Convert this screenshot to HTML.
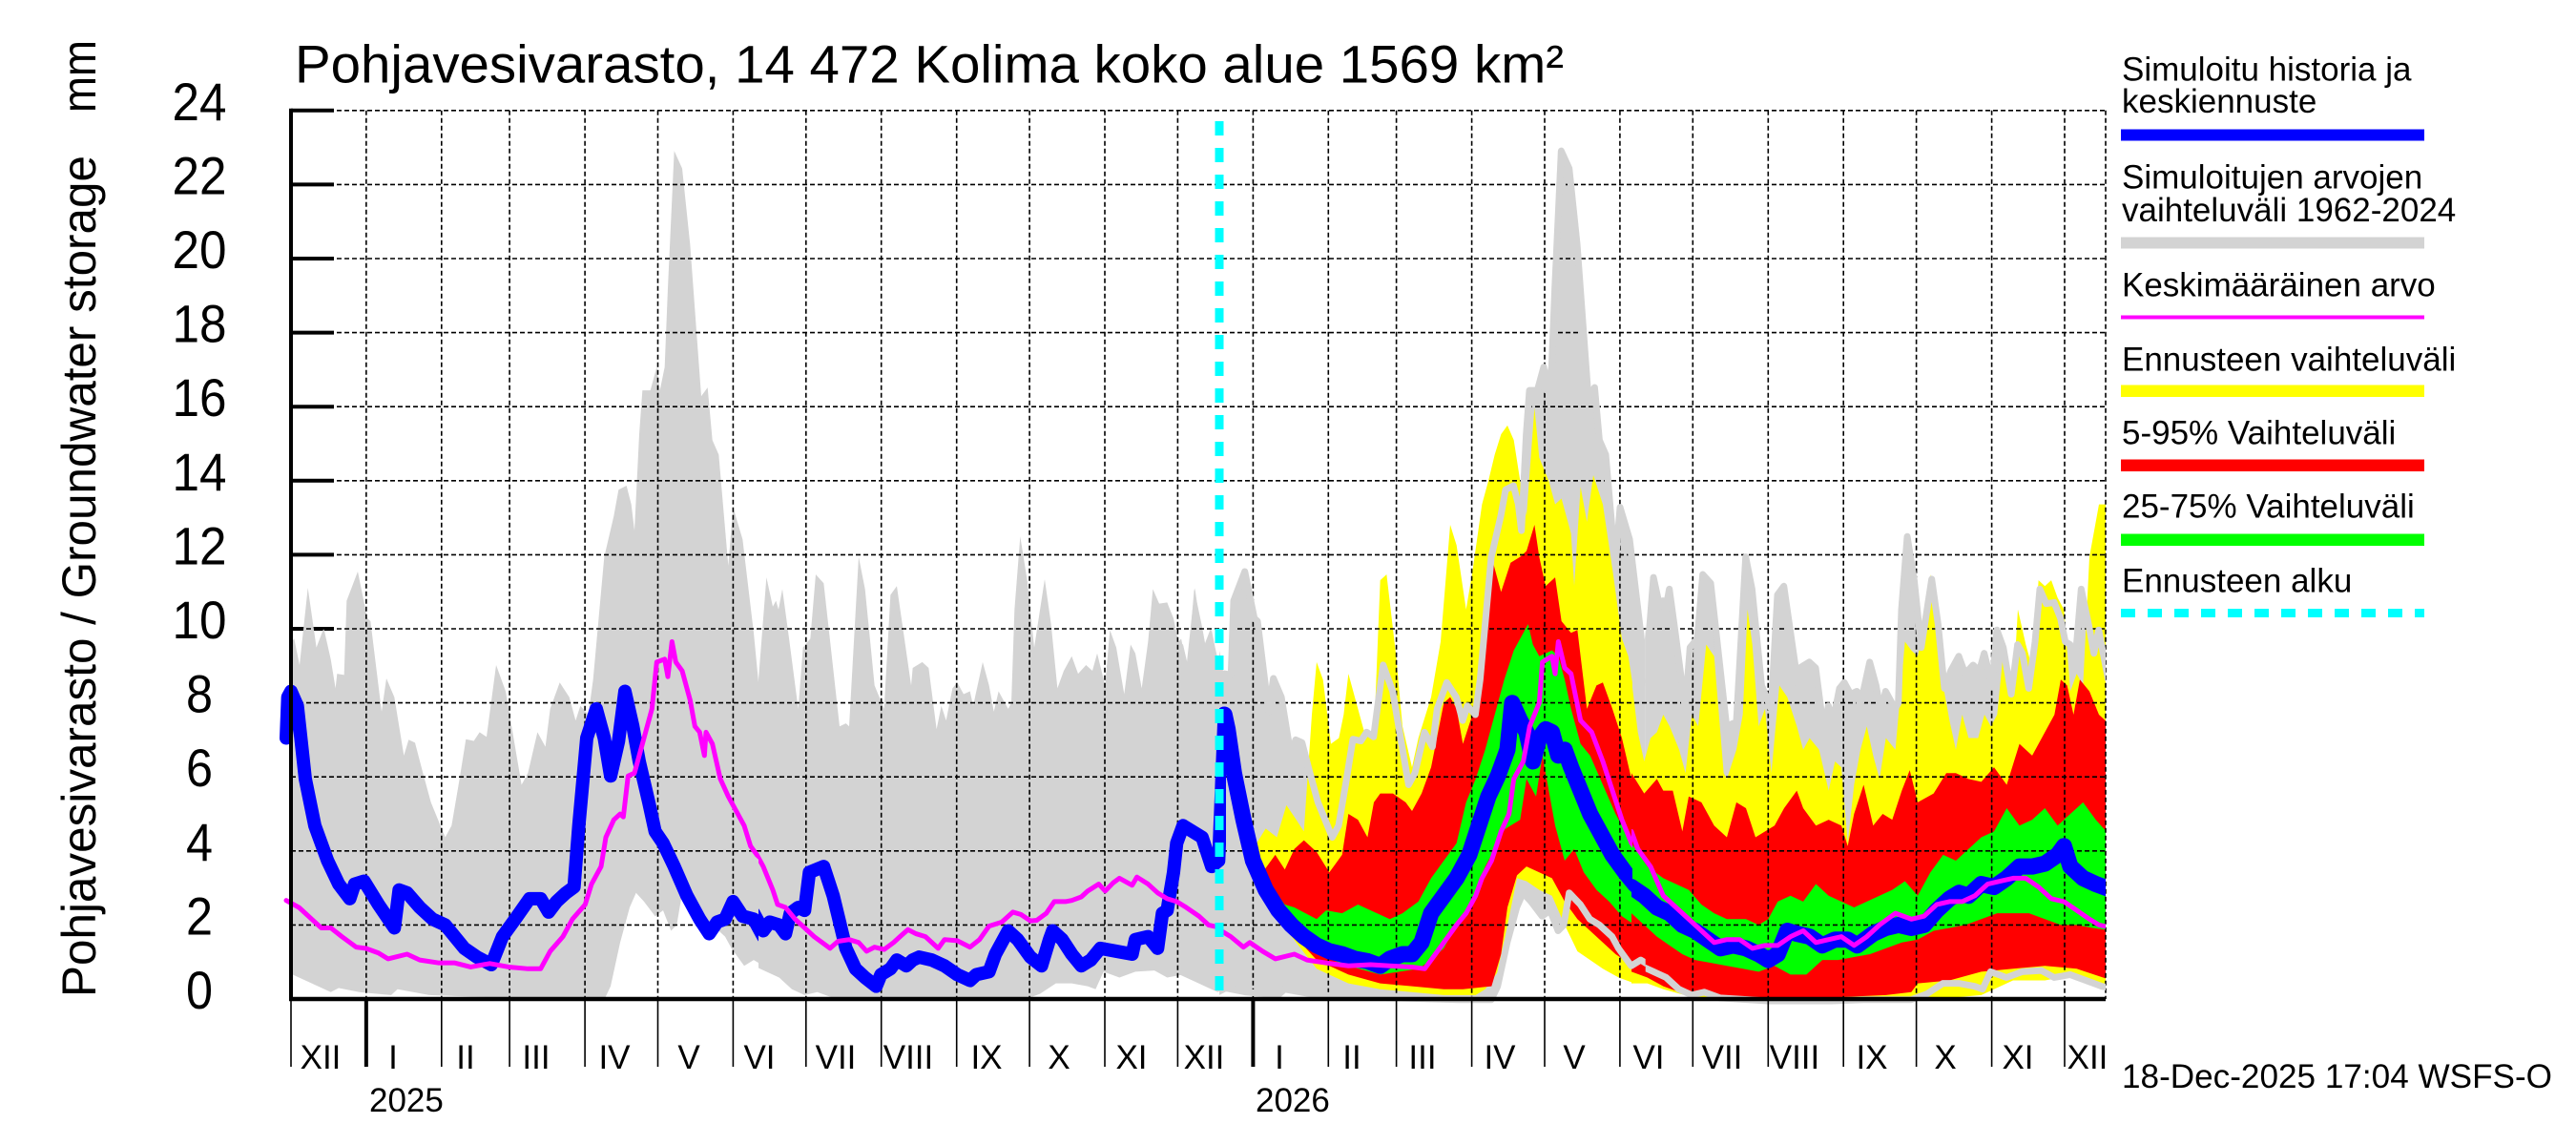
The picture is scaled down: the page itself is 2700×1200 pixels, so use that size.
<!DOCTYPE html>
<html><head><meta charset="utf-8"><style>html,body{margin:0;padding:0;background:#fff}svg{display:block}</style></head>
<body>
<svg width="2700" height="1200" viewBox="0 0 2700 1200" xmlns="http://www.w3.org/2000/svg" xmlns:xlink="http://www.w3.org/1999/xlink" font-family="'Liberation Sans', Arial, sans-serif">
<defs>
<clipPath id="plot"><rect x="305" y="100" width="1902" height="947"/></clipPath>
<clipPath id="cA"><rect x="0" y="0" width="795" height="1100"/></clipPath>
<clipPath id="cB"><rect x="795" y="0" width="600" height="1100"/></clipPath>
<clipPath id="cL7"><rect x="290" y="0" width="505" height="1100"/></clipPath>
<clipPath id="cL8"><rect x="795" y="0" width="490" height="1100"/></clipPath>
<clipPath id="cM8"><rect x="795" y="0" width="485" height="1100"/></clipPath>
<clipPath id="cF1"><rect x="1278" y="0" width="433" height="1100"/></clipPath>
<clipPath id="cM9"><rect x="1280" y="0" width="431" height="1100"/></clipPath>
<clipPath id="cF2"><rect x="1710" y="0" width="497" height="1100"/></clipPath>
<clipPath id="cFall"><rect x="1278" y="0" width="929" height="1100"/></clipPath>
<g id="gb" fill="#d3d3d3">
 <g clip-path="url(#cA)"><g transform="translate(300,100) scale(0.333333,0.612245)"><polygon points="0,945 25,930 42,975 68,843 95,945 118,912 140,965 155,1015 160,990 182,992 190,865 225,815 255,895 265,900 300,1055 315,998 340,1030 370,1130 385,1103 405,1108 430,1160 455,1210 500,1270 520,1250 545,1170 565,1102 590,1105 608,1090 630,1098 660,975 690,1020 740,1180 760,1160 790,1090 815,1115 830,1050 860,1005 890,1030 910,1070 925,1045 950,1060 965,1000 985,880 1000,790 1030,720 1045,675 1070,668 1085,700 1095,745 1110,580 1120,505 1145,505 1165,465 1175,505 1190,465 1200,330 1220,95 1245,125 1270,255 1305,515 1325,500 1340,590 1360,615 1390,805 1405,705 1435,760 1470,920 1485,1005 1500,870 1515,870 1515,1490 1500,1490 1470,1480 1440,1490 1400,1460 1380,1440 1340,1420 1310,1410 1280,1385 1245,1365 1228,1420 1210,1430 1185,1395 1160,1405 1125,1380 1100,1365 1080,1390 1050,1450 1020,1525 1000,1548 900,1548 700,1545 600,1543 450,1540 350,1530 330,1540 230,1535 165,1528 140,1535 60,1515 0,1500"/></g></g>
 <g clip-path="url(#cB)"><g transform="translate(790,100) scale(0.333333,0.612245)"><polygon points="0,940 15,1000 40,825 60,875 70,865 78,880 90,845 110,925 140,1050 155,945 178,930 195,820 220,835 270,1080 290,1075 300,1080 330,790 350,845 380,1010 410,1050 430,855 450,840 495,1010 500,980 530,970 550,980 575,1085 590,1045 605,1070 625,1015 640,1005 660,1025 680,1020 690,1045 720,970 740,1010 755,1055 770,1020 800,1050 810,1040 820,880 838,755 860,830 882,945 915,828 935,905 955,1015 975,985 1000,960 1020,990 1045,975 1065,985 1080,955 1105,1010 1120,915 1140,945 1165,1025 1185,940 1200,955 1220,1015 1240,935 1255,845 1275,870 1300,868 1320,895 1335,935 1350,940 1365,975 1385,845 1410,910 1425,955 1440,915 1470,1000 1480,990 1500,990 1500,1530 1450,1525 1400,1515 1350,1505 1300,1510 1260,1498 1200,1500 1150,1510 1100,1500 1075,1530 1050,1525 1000,1520 950,1520 900,1538 850,1548 700,1548 600,1550 400,1550 250,1545 200,1535 160,1540 120,1530 80,1510 40,1500 0,1490"/></g></g>
</g>
<g id="ge" fill="none" stroke="#d3d3d3" stroke-width="7" stroke-linejoin="round">
 <g clip-path="url(#cA)"><g transform="translate(300,100) scale(0.333333,0.612245)">
  <polyline vector-effect="non-scaling-stroke" points="0,945 25,930 42,975 68,843 95,945 118,912 140,965 155,1015 160,990 182,992 190,865 225,815 255,895 265,900 300,1055 315,998 340,1030 370,1130 385,1103 405,1108 430,1160 455,1210 500,1270 520,1250 545,1170 565,1102 590,1105 608,1090 630,1098 660,975 690,1020 740,1180 760,1160 790,1090 815,1115 830,1050 860,1005 890,1030 910,1070 925,1045 950,1060 965,1000 985,880 1000,790 1030,720 1045,675 1070,668 1085,700 1095,745 1110,580 1120,505 1145,505 1165,465 1175,505 1190,465 1200,330 1220,95 1245,125 1270,255 1305,515 1325,500 1340,590 1360,615 1390,805 1405,705 1435,760 1470,920 1485,1005 1500,870 1515,870"/>
  <polyline vector-effect="non-scaling-stroke" points="1515,1490 1500,1490 1470,1480 1440,1490 1400,1460 1380,1440 1340,1420 1310,1410 1280,1385 1245,1365 1228,1420 1210,1430 1185,1395 1160,1405 1125,1380 1100,1365 1080,1390 1050,1450 1020,1525 1000,1548 900,1548 700,1545 600,1543 450,1540 350,1530 330,1540 230,1535 165,1528 140,1535 60,1515 0,1500"/>
 </g></g>
 <g clip-path="url(#cB)"><g transform="translate(790,100) scale(0.333333,0.612245)">
  <polyline vector-effect="non-scaling-stroke" points="0,940 15,1000 40,825 60,875 70,865 78,880 90,845 110,925 140,1050 155,945 178,930 195,820 220,835 270,1080 290,1075 300,1080 330,790 350,845 380,1010 410,1050 430,855 450,840 495,1010 500,980 530,970 550,980 575,1085 590,1045 605,1070 625,1015 640,1005 660,1025 680,1020 690,1045 720,970 740,1010 755,1055 770,1020 800,1050 810,1040 820,880 838,755 860,830 882,945 915,828 935,905 955,1015 975,985 1000,960 1020,990 1045,975 1065,985 1080,955 1105,1010 1120,915 1140,945 1165,1025 1185,940 1200,955 1220,1015 1240,935 1255,845 1275,870 1300,868 1320,895 1335,935 1350,940 1365,975 1385,845 1410,910 1425,955 1440,915 1470,1000 1480,990 1500,990"/>
  <polyline vector-effect="non-scaling-stroke" points="1500,1530 1450,1525 1400,1515 1350,1505 1300,1510 1260,1498 1200,1500 1150,1510 1100,1500 1075,1530 1050,1525 1000,1520 950,1520 900,1538 850,1548 700,1548 600,1550 400,1550 250,1545 200,1535 160,1540 120,1530 80,1510 40,1500 0,1490"/>
 </g></g>
</g>
</defs>

<rect x="0" y="0" width="2700" height="1200" fill="#fff"/>

<g stroke="#000" stroke-width="4">
<line x1="305" y1="115.8" x2="350" y2="115.8"/><line x1="305" y1="193.4" x2="350" y2="193.4"/><line x1="305" y1="271" x2="350" y2="271"/><line x1="305" y1="348.6" x2="350" y2="348.6"/><line x1="305" y1="426.2" x2="350" y2="426.2"/><line x1="305" y1="503.8" x2="350" y2="503.8"/><line x1="305" y1="581.4" x2="350" y2="581.4"/><line x1="305" y1="659" x2="350" y2="659"/><line x1="305" y1="736.6" x2="350" y2="736.6"/><line x1="305" y1="814.2" x2="350" y2="814.2"/><line x1="305" y1="891.8" x2="350" y2="891.8"/><line x1="305" y1="969.4" x2="350" y2="969.4"/>
</g>

<g clip-path="url(#plot)">
 <use href="#gb" xlink:href="#gb"/>
 <use href="#gb" xlink:href="#gb" transform="translate(929.7,0)"/>
</g>

<g clip-path="url(#cF1)"><g transform="translate(1280,100) scale(0.333333,0.612245)">
<polygon fill="#ffff00" points="0,1060 60,1230 100,1290 140,1255 175,1270 205,1215 230,1235 260,1260 285,1060 300,970 320,1000 345,1110 370,1100 385,1060 400,990 420,1030 450,1090 480,1100 500,830 520,820 550,960 570,1080 600,1150 620,1100 660,1030 690,935 720,735 740,770 770,880 790,815 820,700 840,660 860,615 880,580 900,565 920,590 940,660 960,720 985,535 1000,620 1030,660 1050,700 1070,690 1100,750 1110,840 1130,670 1150,730 1170,650 1200,700 1230,810 1260,930 1280,960 1300,1030 1330,1130 1330,1525 1300,1520 1250,1510 1200,1495 1160,1480 1120,1465 1080,1420 1040,1370 1000,1360 960,1345 930,1340 900,1420 870,1500 830,1530 800,1540 700,1540 600,1535 500,1530 400,1520 300,1495 200,1425 100,1325 0,1060"/>
<polygon fill="#ff0000" points="0,1060 80,1260 130,1330 170,1300 200,1325 230,1290 260,1275 300,1295 340,1330 380,1300 400,1230 430,1240 460,1270 480,1210 500,1195 540,1195 580,1210 600,1225 630,1195 660,1150 700,1040 720,1030 740,1050 760,1110 790,1060 820,1000 850,790 880,850 910,800 940,790 960,780 985,735 1000,790 1020,840 1050,825 1070,900 1100,920 1120,915 1150,1050 1180,1010 1200,1005 1230,1050 1260,1100 1290,1170 1330,1190 1330,1500 1280,1485 1240,1470 1200,1450 1160,1430 1120,1410 1080,1380 1040,1340 1000,1330 960,1320 930,1335 900,1390 880,1470 850,1525 760,1530 700,1530 600,1525 500,1520 400,1505 300,1480 200,1420 100,1320 0,1060"/>
<polygon fill="#00ff00" points="0,1060 100,1310 200,1385 230,1390 300,1410 330,1395 380,1400 430,1385 470,1395 530,1410 570,1400 620,1380 660,1340 700,1310 740,1280 770,1210 800,1170 830,1120 860,1060 890,1000 920,950 940,930 965,905 980,940 1000,960 1020,955 1040,950 1060,960 1080,1000 1100,1050 1130,1110 1160,1130 1200,1180 1240,1230 1280,1270 1330,1290 1330,1420 1300,1420 1260,1405 1220,1380 1180,1360 1140,1330 1110,1290 1080,1310 1050,1250 1030,1190 1010,1130 990,1200 960,1170 940,1240 910,1250 880,1260 860,1290 830,1320 800,1360 770,1400 740,1420 700,1460 660,1480 620,1495 560,1500 500,1505 400,1490 300,1470 200,1410 100,1320 0,1060"/>
</g></g>
<g clip-path="url(#cF2)"><g transform="translate(1710,100) scale(0.333333,0.612245)">
<polygon fill="#ffff00" points="0,1000 20,1090 40,1140 60,1100 80,1090 100,1060 120,1080 150,1120 170,1160 190,1060 210,1080 235,940 260,960 290,1160 300,1170 330,1120 350,1060 365,880 380,940 400,1080 420,1050 440,1160 465,1010 490,1030 520,1080 540,1120 560,1100 590,1120 620,1190 640,1140 660,1150 680,1280 700,1180 720,1120 740,1080 760,1130 780,1170 800,1100 830,1120 860,935 880,950 900,960 925,900 940,820 960,920 980,1010 1000,1070 1020,1120 1040,1060 1060,1100 1090,1100 1110,1060 1130,1080 1150,1060 1170,950 1200,1020 1215,880 1240,940 1260,980 1280,830 1300,840 1320,830 1340,860 1360,880 1380,1020 1400,990 1420,1010 1440,790 1470,700 1490,700 1510,700 1510,1530 1400,1505 1300,1515 1200,1515 1100,1540 1000,1545 900,1545 850,1548 600,1550 300,1548 200,1545 100,1530 50,1520 0,1520"/>
<polygon fill="#ff0000" points="0,1160 40,1195 80,1170 100,1190 130,1190 160,1260 180,1200 220,1210 260,1250 300,1270 330,1210 360,1220 390,1270 420,1260 450,1250 480,1220 520,1190 540,1220 580,1250 620,1240 660,1250 680,1285 700,1230 730,1180 760,1250 790,1230 820,1240 850,1190 875,1155 900,1210 950,1195 990,1160 1020,1160 1060,1170 1100,1175 1140,1150 1180,1180 1220,1110 1260,1130 1300,1090 1330,1060 1350,1000 1370,1010 1390,1060 1410,1000 1440,1020 1470,1060 1510,1080 1510,1515 1400,1495 1300,1490 1200,1495 1100,1500 1000,1515 900,1520 880,1535 800,1540 600,1545 400,1545 200,1540 150,1535 100,1525 50,1510 0,1500"/>
<polygon fill="#00ff00" points="0,1280 50,1320 100,1340 140,1350 180,1360 220,1385 260,1400 300,1410 360,1410 400,1420 430,1410 460,1380 500,1370 540,1380 580,1350 620,1370 660,1380 700,1390 740,1380 780,1370 820,1360 860,1345 900,1370 940,1330 980,1300 1020,1310 1060,1290 1100,1270 1140,1260 1180,1220 1220,1250 1260,1240 1300,1220 1340,1250 1380,1230 1420,1210 1460,1240 1510,1270 1510,1430 1450,1425 1400,1420 1350,1420 1300,1410 1250,1400 1200,1400 1150,1400 1100,1410 1050,1420 1000,1425 950,1430 900,1445 850,1450 800,1460 750,1470 700,1475 650,1480 600,1480 550,1505 500,1505 450,1490 400,1500 350,1495 300,1490 250,1485 200,1480 160,1470 120,1455 80,1440 40,1420 0,1400"/>
</g></g>

<g stroke="#000" stroke-width="1.6" stroke-dasharray="5 3" fill="none">
<line x1="305" y1="115.8" x2="2207" y2="115.8"/><line x1="305" y1="193.4" x2="2207" y2="193.4"/><line x1="305" y1="271" x2="2207" y2="271"/><line x1="305" y1="348.6" x2="2207" y2="348.6"/><line x1="305" y1="426.2" x2="2207" y2="426.2"/><line x1="305" y1="503.8" x2="2207" y2="503.8"/><line x1="305" y1="581.4" x2="2207" y2="581.4"/><line x1="305" y1="659" x2="2207" y2="659"/><line x1="305" y1="736.6" x2="2207" y2="736.6"/><line x1="305" y1="814.2" x2="2207" y2="814.2"/><line x1="305" y1="891.8" x2="2207" y2="891.8"/><line x1="305" y1="969.4" x2="2207" y2="969.4"/>
<line x1="383.85" y1="115.8" x2="383.85" y2="1047"/><line x1="462.8" y1="115.8" x2="462.8" y2="1047"/><line x1="534.1" y1="115.8" x2="534.1" y2="1047"/><line x1="613.1" y1="115.8" x2="613.1" y2="1047"/><line x1="689.5" y1="115.8" x2="689.5" y2="1047"/><line x1="768.4" y1="115.8" x2="768.4" y2="1047"/><line x1="844.8" y1="115.8" x2="844.8" y2="1047"/><line x1="923.7" y1="115.8" x2="923.7" y2="1047"/><line x1="1002.7" y1="115.8" x2="1002.7" y2="1047"/><line x1="1079.1" y1="115.8" x2="1079.1" y2="1047"/><line x1="1158" y1="115.8" x2="1158" y2="1047"/><line x1="1234.4" y1="115.8" x2="1234.4" y2="1047"/><line x1="1313.4" y1="115.8" x2="1313.4" y2="1047"/><line x1="1392.3" y1="115.8" x2="1392.3" y2="1047"/><line x1="1463.6" y1="115.8" x2="1463.6" y2="1047"/><line x1="1542.6" y1="115.8" x2="1542.6" y2="1047"/><line x1="1619" y1="115.8" x2="1619" y2="1047"/><line x1="1697.9" y1="115.8" x2="1697.9" y2="1047"/><line x1="1774.3" y1="115.8" x2="1774.3" y2="1047"/><line x1="1853.3" y1="115.8" x2="1853.3" y2="1047"/><line x1="1932.2" y1="115.8" x2="1932.2" y2="1047"/><line x1="2008.6" y1="115.8" x2="2008.6" y2="1047"/><line x1="2087.6" y1="115.8" x2="2087.6" y2="1047"/><line x1="2164" y1="115.8" x2="2164" y2="1047"/><line x1="2207" y1="115.8" x2="2207" y2="1047"/>
</g>

<g clip-path="url(#cFall)"><use href="#ge" xlink:href="#ge" transform="translate(929.7,0)"/></g>

<g fill="none" stroke="#0000ff" stroke-linejoin="round" stroke-linecap="round">
<g clip-path="url(#cL7)"><g transform="translate(300,100) scale(0.333333,0.612245)"><polyline vector-effect="non-scaling-stroke" stroke-width="14" points="0,1100 5,1030 15,1020 35,1045 60,1170 90,1250 130,1310 165,1350 200,1375 215,1350 245,1345 290,1385 340,1425 355,1360 380,1365 420,1390 460,1410 500,1420 560,1460 600,1475 645,1488 680,1440 720,1410 765,1375 800,1375 825,1398 850,1380 880,1365 905,1355 920,1250 945,1100 975,1050 1000,1100 1020,1165 1045,1105 1065,1020 1090,1080 1110,1140 1140,1210 1160,1260 1185,1280 1220,1320 1260,1370 1300,1410 1330,1435 1355,1415 1380,1410 1405,1380 1435,1405 1470,1410 1500,1440"/></g></g>
<g clip-path="url(#cL8)"><g transform="translate(790,100) scale(0.333333,0.612245)"><polyline vector-effect="non-scaling-stroke" stroke-width="14" points="0,1400 30,1430 50,1415 80,1420 100,1435 115,1400 140,1390 160,1395 175,1330 220,1320 250,1370 290,1460 320,1495 350,1510 385,1525 400,1505 430,1495 450,1480 480,1490 500,1480 520,1475 560,1480 600,1490 640,1505 680,1515 700,1505 740,1500 760,1470 800,1430 830,1445 870,1475 905,1490 930,1445 940,1430 970,1445 1000,1470 1030,1490 1060,1480 1090,1460 1140,1465 1190,1470 1200,1445 1240,1440 1270,1460 1285,1400 1300,1395 1320,1330 1330,1280 1350,1250 1380,1260 1410,1270 1440,1320 1462,1310 1470,1200 1480,1060"/></g></g>
<g clip-path="url(#cF1)"><g transform="translate(1280,100) scale(0.333333,0.612245)"><polyline vector-effect="non-scaling-stroke" stroke-width="17" points="10,1060 20,1085 40,1160 70,1240 100,1310 140,1360 180,1395 220,1420 260,1440 300,1455 340,1465 380,1470 420,1478 460,1482 500,1490 530,1478 570,1470 600,1470 630,1450 660,1400 700,1370 740,1340 780,1300 810,1250 840,1200 870,1165 900,1120 915,1040 940,1070 960,1090 980,1140 1000,1100 1020,1085 1040,1090 1060,1130 1080,1120 1100,1150 1130,1190 1160,1230 1200,1270 1230,1300 1270,1330 1300,1350 1340,1370"/></g></g>
<g clip-path="url(#cF2)"><g transform="translate(1710,100) scale(0.333333,0.612245)"><polyline vector-effect="non-scaling-stroke" stroke-width="17" points="0,1355 40,1370 80,1390 120,1400 160,1420 200,1430 240,1445 280,1460 320,1455 360,1460 400,1470 430,1480 460,1470 490,1430 520,1435 560,1440 600,1455 640,1445 680,1445 710,1455 760,1435 800,1425 840,1420 880,1425 920,1420 960,1395 1000,1375 1030,1365 1060,1370 1100,1350 1140,1355 1180,1340 1220,1320 1260,1320 1300,1315 1340,1300 1360,1285 1380,1320 1420,1340 1460,1350 1510,1360"/></g></g>
</g>

<g fill="none" stroke="#ff00ff" stroke-width="5" stroke-linejoin="round" stroke-linecap="round">
<g clip-path="url(#cL7)"><g transform="translate(300,100) scale(0.333333,0.612245)"><polyline vector-effect="non-scaling-stroke" points="0,1378 40,1390 70,1405 110,1425 140,1425 175,1440 220,1458 250,1460 290,1468 320,1478 380,1470 420,1480 480,1485 530,1485 580,1492 640,1486 700,1492 760,1495 800,1495 830,1465 870,1440 900,1410 940,1385 960,1350 990,1320 1005,1270 1030,1240 1050,1230 1060,1235 1075,1165 1095,1160 1110,1130 1135,1080 1150,1050 1165,970 1190,965 1200,995 1213,935 1225,970 1245,985 1270,1035 1285,1080 1300,1090 1315,1130 1320,1090 1340,1110 1365,1170 1390,1200 1410,1220 1440,1250 1460,1285 1480,1300 1500,1310"/></g></g>
<g clip-path="url(#cM8)"><g transform="translate(790,100) scale(0.333333,0.612245)"><polyline vector-effect="non-scaling-stroke" points="0,1290 30,1320 60,1360 75,1385 100,1390 130,1410 160,1425 190,1440 215,1450 240,1460 265,1448 300,1445 330,1450 355,1465 380,1458 410,1462 440,1450 460,1440 485,1428 510,1435 540,1440 580,1460 600,1445 640,1447 680,1458 710,1445 740,1422 780,1415 815,1398 840,1402 870,1413 890,1412 920,1400 945,1380 980,1380 1000,1378 1030,1372 1050,1362 1085,1350 1105,1362 1130,1348 1150,1340 1190,1352 1205,1338 1240,1350 1270,1365 1300,1375 1330,1380 1360,1390 1400,1405 1430,1420 1470,1425 1500,1440"/></g></g>
<g clip-path="url(#cM9)"><g transform="translate(1280,100) scale(0.333333,0.612245)"><polyline vector-effect="non-scaling-stroke" points="0,1430 30,1440 70,1458 90,1450 130,1465 170,1478 230,1470 270,1480 330,1485 400,1490 470,1488 530,1490 600,1492 640,1495 660,1480 700,1450 740,1420 770,1400 800,1370 820,1340 850,1310 880,1260 905,1230 920,1170 950,1140 970,1080 1000,1040 1010,970 1040,960 1050,990 1060,935 1080,980 1100,990 1130,1070 1165,1090 1200,1140 1230,1190 1260,1240 1290,1280 1320,1300 1350,1330"/></g></g>
<g clip-path="url(#cF2)"><g transform="translate(1710,100) scale(0.333333,0.612245)"><polyline vector-effect="non-scaling-stroke" points="0,1260 20,1290 60,1320 100,1370 140,1390 180,1410 220,1430 260,1450 300,1445 340,1445 380,1460 420,1455 460,1455 500,1440 540,1430 580,1450 620,1445 660,1440 700,1455 740,1440 780,1420 830,1400 880,1410 920,1405 960,1385 1000,1380 1040,1380 1080,1370 1120,1350 1160,1345 1200,1340 1240,1340 1280,1355 1320,1375 1360,1380 1400,1395 1440,1410 1470,1420 1510,1425"/></g></g>
</g>

<line x1="1278" y1="127" x2="1278" y2="1047" stroke="#00ffff" stroke-width="9" stroke-dasharray="15 13"/>

<g stroke="#000">
<line x1="305" y1="113.8" x2="305" y2="1049" stroke-width="4"/>
<line x1="303" y1="1047" x2="2207" y2="1047" stroke-width="4.5"/>
<g stroke-width="1.6">
<line x1="305" y1="1047" x2="305" y2="1118"/><line x1="462.8" y1="1047" x2="462.8" y2="1118"/><line x1="534.1" y1="1047" x2="534.1" y2="1118"/><line x1="613.1" y1="1047" x2="613.1" y2="1118"/><line x1="689.5" y1="1047" x2="689.5" y2="1118"/><line x1="768.4" y1="1047" x2="768.4" y2="1118"/><line x1="844.8" y1="1047" x2="844.8" y2="1118"/><line x1="923.7" y1="1047" x2="923.7" y2="1118"/><line x1="1002.7" y1="1047" x2="1002.7" y2="1118"/><line x1="1079.1" y1="1047" x2="1079.1" y2="1118"/><line x1="1158" y1="1047" x2="1158" y2="1118"/><line x1="1234.4" y1="1047" x2="1234.4" y2="1118"/><line x1="1392.3" y1="1047" x2="1392.3" y2="1118"/><line x1="1463.6" y1="1047" x2="1463.6" y2="1118"/><line x1="1542.6" y1="1047" x2="1542.6" y2="1118"/><line x1="1619" y1="1047" x2="1619" y2="1118"/><line x1="1697.9" y1="1047" x2="1697.9" y2="1118"/><line x1="1774.3" y1="1047" x2="1774.3" y2="1118"/><line x1="1853.3" y1="1047" x2="1853.3" y2="1118"/><line x1="1932.2" y1="1047" x2="1932.2" y2="1118"/><line x1="2008.6" y1="1047" x2="2008.6" y2="1118"/><line x1="2087.6" y1="1047" x2="2087.6" y2="1118"/><line x1="2164" y1="1047" x2="2164" y2="1118"/>
</g>
<line x1="383.85" y1="1047" x2="383.85" y2="1118" stroke-width="4"/>
<line x1="1313.4" y1="1047" x2="1313.4" y2="1118" stroke-width="4"/>
</g>

<g font-size="56" text-anchor="middle" fill="#000" lengthAdjust="spacingAndGlyphs">
<text x="209" y="126" textLength="57" lengthAdjust="spacingAndGlyphs">24</text><text x="209" y="203.4" textLength="57" lengthAdjust="spacingAndGlyphs">22</text><text x="209" y="281" textLength="57" lengthAdjust="spacingAndGlyphs">20</text><text x="209" y="358.6" textLength="57" lengthAdjust="spacingAndGlyphs">18</text><text x="209" y="436.2" textLength="57" lengthAdjust="spacingAndGlyphs">16</text><text x="209" y="513.8" textLength="57" lengthAdjust="spacingAndGlyphs">14</text><text x="209" y="591.4" textLength="57" lengthAdjust="spacingAndGlyphs">12</text><text x="209" y="669" textLength="57" lengthAdjust="spacingAndGlyphs">10</text><text x="209" y="746.6" textLength="28" lengthAdjust="spacingAndGlyphs">8</text><text x="209" y="824.2" textLength="28" lengthAdjust="spacingAndGlyphs">6</text><text x="209" y="901.8" textLength="28" lengthAdjust="spacingAndGlyphs">4</text><text x="209" y="979.4" textLength="28" lengthAdjust="spacingAndGlyphs">2</text><text x="209" y="1057" textLength="28" lengthAdjust="spacingAndGlyphs">0</text>
</g>

<g font-size="35" text-anchor="middle" fill="#000">
<text x="336" y="1120">XII</text><text x="412" y="1120">I</text><text x="488" y="1120">II</text><text x="562" y="1120">III</text><text x="644" y="1120">IV</text><text x="722" y="1120">V</text><text x="796" y="1120">VI</text><text x="876" y="1120">VII</text><text x="952" y="1120">VIII</text><text x="1034" y="1120">IX</text><text x="1110" y="1120">X</text><text x="1186" y="1120">XI</text><text x="1262" y="1120">XII</text>
<text x="1341" y="1120">I</text><text x="1417" y="1120">II</text><text x="1491" y="1120">III</text><text x="1572" y="1120">IV</text><text x="1650" y="1120">V</text><text x="1728" y="1120">VI</text><text x="1805" y="1120">VII</text><text x="1881" y="1120">VIII</text><text x="1962" y="1120">IX</text><text x="2039" y="1120">X</text><text x="2115" y="1120">XI</text><text x="2188" y="1120">XII</text>
</g>
<g font-size="35" fill="#000">
<text x="387" y="1165">2025</text>
<text x="1316" y="1165">2026</text>
<text x="2224" y="1140" textLength="451" lengthAdjust="spacingAndGlyphs">18-Dec-2025 17:04 WSFS-O</text>
</g>

<text x="309" y="86.7" font-size="56" textLength="1330" lengthAdjust="spacingAndGlyphs" fill="#000">Pohjavesivarasto, 14 472 Kolima koko alue 1569 km²</text>

<text transform="translate(100,1045) rotate(-90)" font-size="50" textLength="882" lengthAdjust="spacingAndGlyphs" fill="#000">Pohjavesivarasto / Groundwater storage</text>
<text transform="translate(100,118) rotate(-90)" font-size="50" textLength="76" lengthAdjust="spacingAndGlyphs" fill="#000">mm</text>

<g font-size="35" fill="#000">
<text x="2224" y="84.3">Simuloitu historia ja</text>
<text x="2224" y="117.8">keskiennuste</text>
<text x="2224" y="197.3">Simuloitujen arvojen</text>
<text x="2224" y="232">vaihteluväli 1962-2024</text>
<text x="2224" y="310.4">Keskimääräinen arvo</text>
<text x="2224" y="388.4">Ennusteen vaihteluväli</text>
<text x="2224" y="465.5">5-95% Vaihteluväli</text>
<text x="2224" y="542.6">25-75% Vaihteluväli</text>
<text x="2224" y="620.6">Ennusteen alku</text>
</g>
<rect x="2223" y="135.5" width="318" height="12" fill="#0000ff"/>
<rect x="2223" y="248.5" width="318" height="12" fill="#d3d3d3"/>
<rect x="2223" y="330.5" width="318" height="4" fill="#ff00ff"/>
<rect x="2223" y="403.5" width="318" height="12.5" fill="#ffff00"/>
<rect x="2223" y="481.5" width="318" height="12.5" fill="#ff0000"/>
<rect x="2223" y="559.5" width="318" height="12.5" fill="#00ff00"/>
<line x1="2223" y1="642.5" x2="2541" y2="642.5" stroke="#00ffff" stroke-width="9" stroke-dasharray="15 13"/>
</svg>
</body></html>
